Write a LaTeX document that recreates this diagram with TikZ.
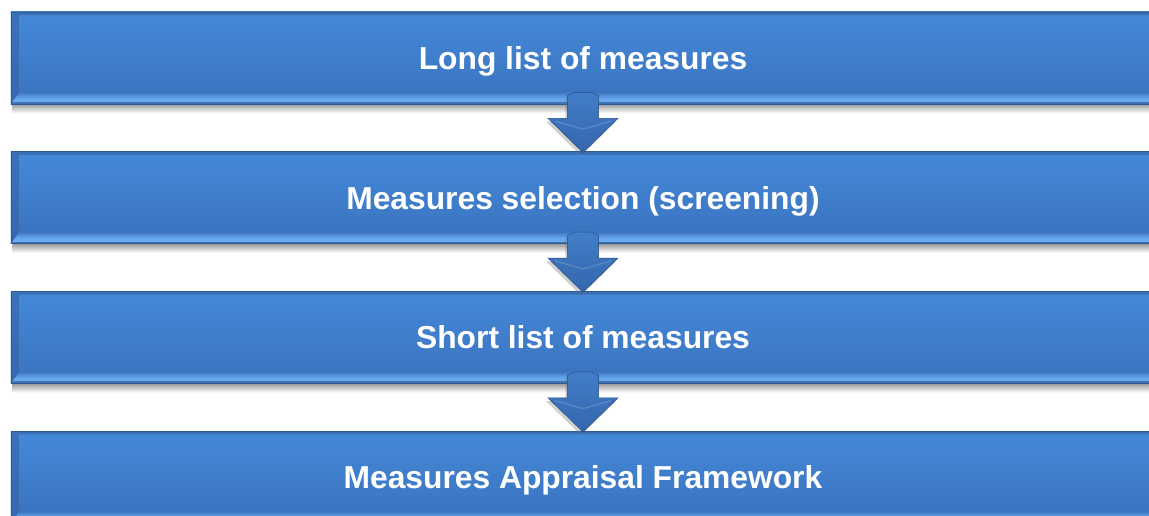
\documentclass[tikz,border=0pt]{standalone}
\usepackage{fontspec}
\setmainfont{Liberation Sans}
\usetikzlibrary{positioning, calc, shadows, backgrounds}
\definecolor{boxtop}{RGB}{68,137,216}
\definecolor{boxbot}{RGB}{58,114,190}
\definecolor{boxedge}{RGB}{46,90,150}
\definecolor{bevlight}{RGB}{112,178,246}
\definecolor{bevdark}{RGB}{50,96,160}
\definecolor{arrtop}{RGB}{66,126,200}
\definecolor{arrbot}{RGB}{52,102,172}
\tikzset{
  stage/.style  = {minimum width=28.6cm, minimum height=2.3cm, inner sep=0pt,
                   top color=boxtop, bottom color=boxbot, draw=boxedge,
                   line width=0.5pt, text=white, text height=16.3pt, text depth=0pt,
                   font=\fontsize{22.6}{26}\selectfont\bfseries,
                   path picture={
                     % bevel strips: left dark, top dark, bottom light, right light
                     \fill[bevdark, opacity=0.55]
                       (path picture bounding box.south west) --
                       (path picture bounding box.north west) --
                       ($(path picture bounding box.north west)+(0.2cm,-0.08cm)$) --
                       ($(path picture bounding box.south west)+(0.2cm,0.27cm)$) -- cycle;
                     \fill[bevdark, opacity=0.6]
                       (path picture bounding box.north west) --
                       (path picture bounding box.north east) --
                       ($(path picture bounding box.north east)+(-0.08cm,-0.08cm)$) --
                       ($(path picture bounding box.north west)+(0.2cm,-0.08cm)$) -- cycle;
                     \shade[top color=boxbot!80!bevlight, bottom color=bevlight,
                            middle color=bevlight!85!boxbot]
                       (path picture bounding box.south west) --
                       ($(path picture bounding box.south west)+(0.2cm,0.27cm)$) --
                       ($(path picture bounding box.south east)+(-0.08cm,0.27cm)$) --
                       (path picture bounding box.south east) -- cycle;
                     \fill[boxedge, opacity=0.7]
                       (path picture bounding box.south west) rectangle
                       ($(path picture bounding box.south east)+(0,0.05cm)$);
                     \fill[bevlight, opacity=0.5]
                       (path picture bounding box.south east) --
                       ($(path picture bounding box.south east)+(-0.08cm,0.27cm)$) --
                       ($(path picture bounding box.north east)+(-0.08cm,-0.08cm)$) --
                       (path picture bounding box.north east) -- cycle;
                   }},
  stageshadow/.style = {top color=black!38, bottom color=white},
  downflow/.style = {top color=arrtop, bottom color=arrbot, draw=arrbot!75!black,
                     line width=0.3pt,
                     drop shadow={shadow xshift=-0.05cm, shadow yshift=-0.08cm,
                                  opacity=0.3, fill=black!60}},
  ridge/.style  = {draw=white, opacity=0.18, line width=0.8pt}
}
% block arrow from the bottom of one stage into the top of the next
\newcommand{\stagearrow}[2]{%
  \path[downflow] let \p1 = (#1.south), \p2 = (#2.north) in
    (\x1-0.39cm,\y1+0.22cm) -- (\x1-0.2cm,\y1+0.3cm) --
    (\x1+0.2cm,\y1+0.3cm) -- (\x1+0.39cm,\y1+0.22cm) --
    (\x1+0.39cm,\y1-0.35cm) -- (\x1+0.875cm,\y1-0.35cm) --
    (\x2,\y2-0.03cm) --
    (\x1-0.875cm,\y1-0.35cm) -- (\x1-0.39cm,\y1-0.35cm) -- cycle;
  \draw[ridge] let \p1 = (#1.south), \p2 = (#2.north) in
    (\x1-0.7cm,\y1-0.42cm) -- (\x1,\y1-0.62cm) -- (\x1+0.7cm,\y1-0.42cm);
}

\begin{document}
\begin{tikzpicture}[x=0.025cm, y=-0.025cm, node distance=1.175cm]
\useasboundingbox (0,0) rectangle (1149,515);
\clip (0,0) rectangle (1149,515);

% ---- Stages ----
\node[stage] (longlist)  at (583,58) {Long list of measures};
\node[stage, below=of longlist]  (selection) {Measures selection (screening)};
\node[stage, below=of selection] (shortlist) {Short list of measures};
\node[stage, below=of shortlist] (appraisal) {Measures Appraisal Framework};

% ---- Soft shadows under the stages ----
\begin{scope}[on background layer]
  \fill[white] (0,0) rectangle (1149,515);
  \foreach \s in {longlist, selection, shortlist}
    \shade[stageshadow] ($(\s.south west)+(0.05cm,0)$) rectangle
                        ($(\s.south east)+(0,-0.22cm)$);
\end{scope}

% ---- Arrows between stages ----
\stagearrow{longlist}{selection}
\stagearrow{selection}{shortlist}
\stagearrow{shortlist}{appraisal}
\end{tikzpicture}
\end{document}
